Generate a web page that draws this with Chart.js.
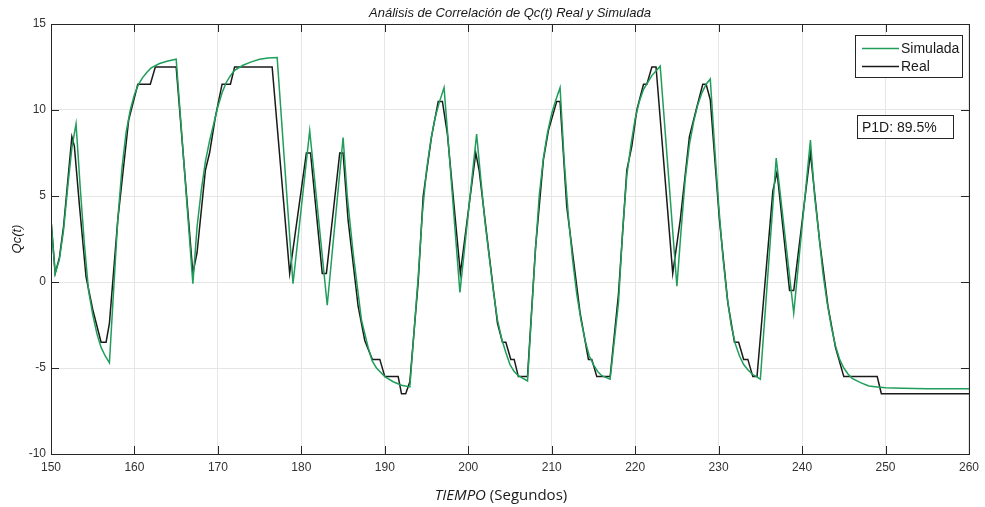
<!DOCTYPE html>
<html>
<head>
<meta charset="utf-8">
<script src="https://cdn.jsdelivr.net/npm/chart.js@4/dist/chart.umd.min.js"></script>
<style>
  html, body { margin: 0; padding: 0; background: #ffffff; }
  #c { display: block; }
</style>
</head>
<body>
<canvas id="c" width="985" height="507"></canvas>
<script>
// ---- Data ----
const realT = [150,150.5,151,151.5,152.5,152.8,153.4,154.2,155,156,156.6,157,158,159.3,160.4,161.9,162.5,165,167,167.5,168.5,169,169.7,170.5,171.5,172,176.5,178.6,180.6,181.1,182.5,183,184.6,185,185.6,186.8,187.6,188.5,189.4,190,191.6,192,192.5,193,194,194.6,195.6,196.4,196.9,197.5,199.05,200.9,201.3,202.5,203.5,204.1,204.5,205.1,205.5,206,207.1,208.06,209,209.6,210.6,211,211.8,213.4,214.4,214.8,215.4,217,218,219,219.6,220.2,221,221.4,222,222.5,224.5,225.4,226.5,227.3,228.1,228.5,229,230.1,231.1,231.9,232.4,233,233.5,234.1,234.6,236.5,237,238.5,239,241,242.1,243.1,244,245,249,249.5,260];
const realV = [3.6,0.5,1.4,3.2,8.45,7.9,4.5,0.3,-1.6,-3.5,-3.5,-2.4,3.6,9.4,11.5,11.5,12.5,12.5,0.5,1.7,6.5,7.5,9.6,11.5,11.5,12.5,12.5,0.5,7.5,7.5,0.5,0.5,7.5,7.5,3.6,-1.4,-3.4,-4.5,-4.5,-5.5,-5.5,-6.5,-6.5,-5.8,0,5,8.45,10.5,10.5,8.6,0.5,7.5,6.5,1.6,-2.4,-3.5,-3.5,-4.5,-4.5,-5.5,-5.5,2,7.1,8.8,10.5,10.5,4.4,-1.8,-4.5,-4.5,-5.5,-5.5,-0.7,6.5,7.9,10,11.5,11.5,12.5,12.5,0.5,3.6,8.45,10,11.5,11.5,10.6,3.6,-1.2,-3.5,-3.5,-4.5,-4.5,-5.5,-5.5,5.3,6.4,-0.5,-0.5,7.5,2.4,-1.4,-3.8,-5.5,-5.5,-6.5,-6.5];

const simT = [150,150.5,151,151.5,152,152.5,153,153.5,154,154.5,155,155.5,156,156.5,157,157.5,158,158.5,159,159.5,160,160.5,161,161.5,162,163,164,165,167,167.5,168,168.5,169,169.5,170,170.5,171,171.5,172,173,174,175,176,177.1,179,181,183.1,185,185.5,186.2,187.2,188,188.5,189,190,191,192,193,194,194.5,195,195.5,196,196.5,197.1,199,201,201.5,202,202.5,203,203.5,204,204.5,205,205.5,206,207.1,208,208.5,209,209.5,210,210.5,211,211.5,212,212.5,213,213.5,214,214.5,215,215.5,216,217,218,218.5,219,219.5,220,220.5,221,222,223,225,225.5,226,226.5,227,227.5,228,228.5,229,229.5,230,230.5,231,231.5,232,232.5,233,233.5,234,235,236.9,239,241,241.5,242,242.5,243,243.5,244,244.5,245,245.5,246,247,248,249,250,252,255,260];
const simV = [3.6,0.5,1.3,3,5.5,7.8,9.2,5.5,2.2,-0.5,-1.9,-3.0,-3.8,-4.3,-4.7,-0.5,3.6,6.6,8.7,10,10.9,11.5,11.9,12.2,12.45,12.7,12.85,12.95,-0.1,3.2,5.3,7,8.2,9.2,10.2,11,11.6,12.0,12.3,12.6,12.8,12.95,13.02,13.05,-0.1,8.8,-1.35,8.4,5,1.7,-2.2,-3.8,-4.6,-5.0,-5.5,-5.8,-6.0,-6.1,0.3,4,6.5,8.2,9.5,10.4,11.3,-0.6,8.6,6,3.5,1.5,-0.5,-2.2,-3.3,-4.1,-4.8,-5.2,-5.45,-5.75,1.5,5,7.2,8.7,9.8,10.6,11.3,7,3.8,1.3,-0.7,-2.2,-3.4,-4.3,-4.8,-5.2,-5.45,-5.65,-1.2,3,6.2,8,9.5,10.5,11.2,12,12.55,-0.25,3,6,8,9.3,10.3,11,11.5,11.8,8,4.5,1.5,-0.8,-2.5,-3.6,-4.3,-4.8,-5.1,-5.35,-5.65,7.2,-1.8,8.25,5,2.8,0.5,-1.2,-2.6,-3.7,-4.5,-5.0,-5.35,-5.6,-5.85,-6.05,-6.1,-6.15,-6.18,-6.2,-6.2];

const seriesNames = ['Simulada', 'Real'];
const seriesColors = ['#1f9e5a', '#1a1a1a'];
const xTicks = [150,160,170,180,190,200,210,220,230,240,250,260];
const yTicks = [-10,-5,0,5,10,15];
const titleText = 'Análisis de Correlación de Qc(t) Real y Simulada';
const yTitle = 'Qc(t)';
const xTitleItalic = 'TIEMPO';
const xTitleRest = ' (Segundos)';
const noteText = 'P1D: 89.5%';

const toXY = (ts, vs) => ts.map((t, i) => ({ x: t, y: vs[i] }));

const AXIS = '#262626';

const decorPlugin = {
  id: 'decor',
  afterDraw(chart) {
    const ctx = chart.ctx;
    const a = chart.chartArea;
    const xs = chart.scales.x, ys = chart.scales.y;
    ctx.save();
    // box
    ctx.strokeStyle = AXIS;
    ctx.lineWidth = 1;
    ctx.strokeRect(Math.round(a.left) + 0.5, Math.round(a.top) + 0.5, Math.round(a.right - a.left), Math.round(a.bottom - a.top));
    // inner ticks
    ctx.beginPath();
    xTicks.forEach(v => {
      const px = Math.round(xs.getPixelForValue(v)) + 0.5;
      ctx.moveTo(px, a.bottom); ctx.lineTo(px, a.bottom - 8);
      ctx.moveTo(px, a.top); ctx.lineTo(px, a.top + 8);
    });
    yTicks.forEach(v => {
      const py = Math.round(ys.getPixelForValue(v)) + 0.5;
      ctx.moveTo(a.left, py); ctx.lineTo(a.left + 8, py);
      ctx.moveTo(a.right, py); ctx.lineTo(a.right - 8, py);
    });
    ctx.stroke();

    // title
    ctx.fillStyle = '#1a1a1a';
    ctx.font = 'italic 13px "Liberation Sans", Arial, sans-serif';
    ctx.textAlign = 'center';
    ctx.textBaseline = 'middle';
    ctx.fillText(titleText, (a.left + a.right) / 2, 13);

    // y title
    ctx.save();
    ctx.translate(17, (a.top + a.bottom) / 2);
    ctx.rotate(-Math.PI / 2);
    ctx.font = 'italic 13px "Liberation Sans", Arial, sans-serif';
    ctx.fillText(yTitle, 0, 0);
    ctx.restore();

    // x title (mixed style)
    ctx.font = 'italic 15px "Open Sans", sans-serif';
    const w1 = ctx.measureText(xTitleItalic).width;
    ctx.font = '15px "Open Sans", sans-serif';
    const w2 = ctx.measureText(xTitleRest).width;
    const cx = 501, cy = 496;
    let sx = cx - (w1 + w2) / 2;
    ctx.textAlign = 'left';
    ctx.font = 'italic 15px "Open Sans", sans-serif';
    ctx.fillText(xTitleItalic, sx, cy);
    ctx.font = '15px "Open Sans", sans-serif';
    ctx.fillText(xTitleRest, sx + w1, cy);

    // legend box
    ctx.fillStyle = '#ffffff';
    ctx.fillRect(855.5, 35.5, 107, 42);
    ctx.strokeStyle = AXIS;
    ctx.strokeRect(855.5, 35.5, 107, 42);
    ctx.font = '14px "Liberation Sans", Arial, sans-serif';
    ctx.textBaseline = 'middle';
    const rows = [48.5, 66.5];
    chart.data.datasets.forEach((ds, i) => {
      ctx.strokeStyle = ds.borderColor;
      ctx.lineWidth = 1.5;
      ctx.beginPath();
      ctx.moveTo(862, rows[i]); ctx.lineTo(899, rows[i]);
      ctx.stroke();
      ctx.fillStyle = '#1a1a1a';
      ctx.fillText(ds.label, 901, rows[i] + 1);
    });

    // note box
    ctx.lineWidth = 1;
    ctx.fillStyle = '#ffffff';
    ctx.fillRect(857.5, 115.5, 96, 23);
    ctx.strokeStyle = AXIS;
    ctx.strokeRect(857.5, 115.5, 96, 23);
    ctx.fillStyle = '#1a1a1a';
    ctx.fillText(noteText, 862, 128);
    ctx.restore();
  }
};

new Chart(document.getElementById('c'), {
  type: 'line',
  data: {
    datasets: [
      { label: seriesNames[0], data: toXY(simT, simV), borderColor: seriesColors[0], borderWidth: 1.5, pointRadius: 0, tension: 0, fill: false },
      { label: seriesNames[1], data: toXY(realT, realV), borderColor: seriesColors[1], borderWidth: 1.5, pointRadius: 0, tension: 0, fill: false }
    ]
  },
  options: {
    responsive: false,
    devicePixelRatio: 1,
    animation: false,
    layout: { padding: { top: 24, right: 12, left: 0, bottom: 0 } },
    plugins: { legend: { display: false }, title: { display: false }, tooltip: { enabled: false } },
    scales: {
      x: {
        type: 'linear', min: 150, max: 260,
        afterBuildTicks: s => { s.ticks = xTicks.map(v => ({ value: v })); },
        afterFit: s => { s.height = 53; },
        ticks: { color: '#333333', font: { size: 12, family: '"Liberation Sans", Arial, sans-serif' }, padding: 6, maxRotation: 0 },
        grid: { color: '#e6e6e6', drawTicks: false },
        border: { display: false }
      },
      y: {
        type: 'linear', min: -10, max: 15,
        afterBuildTicks: s => { s.ticks = yTicks.map(v => ({ value: v })); },
        afterFit: s => { s.width = 51; },
        ticks: { color: '#333333', font: { size: 12, family: '"Liberation Sans", Arial, sans-serif' }, padding: 5 },
        grid: { color: '#e6e6e6', drawTicks: false },
        border: { display: false }
      }
    }
  },
  plugins: [decorPlugin]
});
</script>
</body>
</html>
